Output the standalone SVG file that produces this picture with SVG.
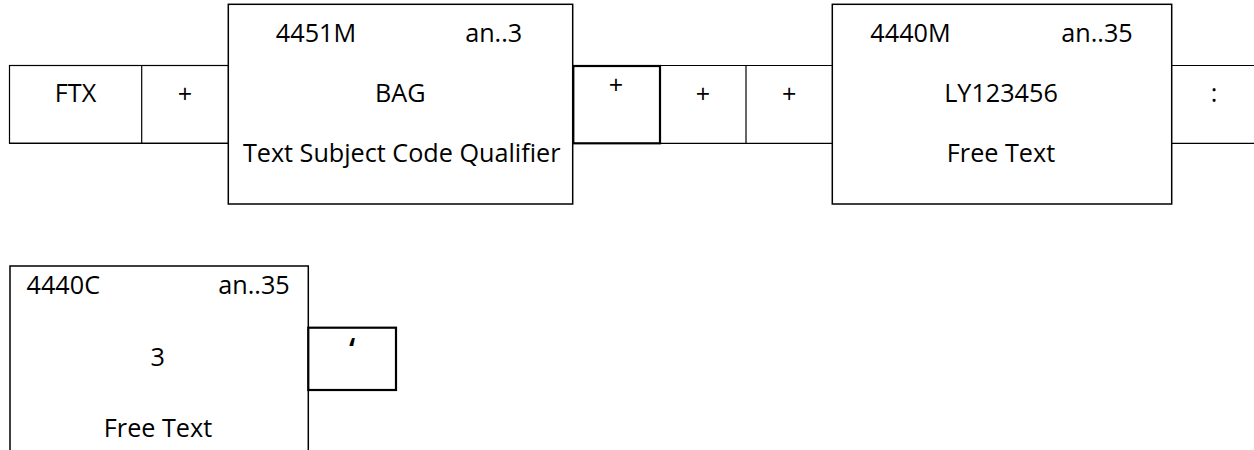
<svg xmlns="http://www.w3.org/2000/svg" width="1254" height="450" viewBox="0 0 1254 450">
<style>
text{font-family:"Open Sans","Liberation Sans",sans-serif;font-size:25.2px;fill:#000;text-anchor:middle}
.thin{fill:none;stroke:#000;stroke-width:1.2}
.box{fill:#fff;stroke:#000;stroke-width:1.5}
.thick{fill:#fff;stroke:#000;stroke-width:2.2}
</style>
<rect width="1254" height="450" fill="#fff"/>
<g id="connectors">
<line class="thin" x1="9.5" y1="65.5" x2="1254" y2="65.5"/>
<line class="thin" x1="9.5" y1="143.3" x2="1254" y2="143.3"/>
</g>
<g id="ftx">
<rect class="thin" x="9.5" y="65.5" width="219" height="77.8" fill="#fff"/>
<line class="thin" x1="141.7" y1="65.5" x2="141.7" y2="143.3"/>
<text x="75.5" y="102">FTX</text>
<text x="185" y="103">+</text>
</g>
<g id="e4451">
<rect class="box" x="228.3" y="4.3" width="344.4" height="199.7"/>
<text x="316" y="42">4451M</text>
<text x="493.7" y="42">an..3</text>
<text x="400.3" y="102">BAG</text>
<text x="401.7" y="162">Text Subject Code Qualifier</text>
</g>
<g id="plus1">
<rect class="thick" x="573.3" y="66" width="86.7" height="77.3"/>
<text x="616" y="94">+</text>
</g>
<g id="plus2">
<line class="thin" x1="746" y1="65.5" x2="746" y2="143.3"/>
<text x="703" y="102.5">+</text>
<text x="789.3" y="102.5">+</text>
</g>
<g id="e4440m">
<rect class="box" x="832.3" y="4.3" width="339.4" height="199.7"/>
<text x="910.5" y="42">4440M</text>
<text x="1097" y="42">an..35</text>
<text x="1001" y="102">LY123456</text>
<text x="1001" y="162">Free Text</text>
</g>
<g id="colon">
<text x="1214" y="102">:</text>
</g>
<g id="e4440c">
<rect class="box" x="10" y="266" width="298.3" height="200"/>
<text x="63.3" y="294">4440C</text>
<text x="254" y="294">an..35</text>
<text x="157.7" y="366">3</text>
<text x="158" y="437">Free Text</text>
</g>
<g id="quote">
<rect class="thick" x="308.3" y="327.7" width="87.7" height="62.3"/>
<text x="352" y="361" style="font-size:32px;font-weight:600">‘</text>
</g>
</svg>
